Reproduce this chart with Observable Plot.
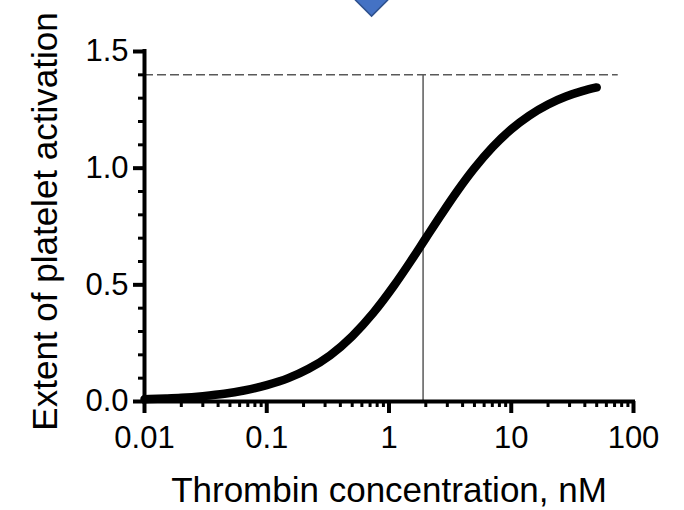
<!DOCTYPE html>
<html>
<head>
<meta charset="utf-8">
<script src="https://cdn.jsdelivr.net/npm/d3@7"></script>
<script src="https://cdn.jsdelivr.net/npm/@observablehq/plot@0.6"></script>
<style>
  html, body { margin: 0; padding: 0; background: #fff; overflow: hidden; }
</style>
</head>
<body>
<div id="chart"></div>
<script>
// Curve: thrombin concentration (nM) vs extent of activation
const concentration = [0.01, 0.015, 0.02, 0.03, 0.045, 0.065, 0.1, 0.15, 0.22, 0.33, 0.5, 0.75, 1.1, 1.5, 2, 2.7, 3.6, 5, 7, 10, 14, 20, 28, 38, 50];
const activation    = [0.010, 0.013, 0.016, 0.023, 0.033, 0.047, 0.070, 0.100, 0.140, 0.198, 0.280, 0.382, 0.497, 0.600, 0.700, 0.804, 0.900, 1.000, 1.089, 1.167, 1.225, 1.273, 1.307, 1.330, 1.346];

// Reference lines
const maxLevel = [1.4];          // dashed plateau
const maxLevelRange = [0.01, 75];
const ec50 = [1.9];              // vertical marker

// Diamond marker above the plot
const markerX = [0.72];
const markerY = [1.72];

// Axes
const xMajor = [0.01, 0.1, 1, 10, 100];
const xTickLabels = ["0.01", "0.1", "1", "10", "100"];
const xMinor = [0.02, 0.03, 0.04, 0.05, 0.06, 0.07, 0.08, 0.09,
                0.2, 0.3, 0.4, 0.5, 0.6, 0.7, 0.8, 0.9,
                2, 3, 4, 5, 6, 7, 8, 9,
                20, 30, 40, 50, 60, 70, 80, 90];
const yMajor = [0, 0.5, 1.0, 1.5];
const yTickLabels = ["0.0", "0.5", "1.0", "1.5"];
const yMinor = [0.1, 0.2, 0.3, 0.4, 0.6, 0.7, 0.8, 0.9, 1.1, 1.2, 1.3, 1.4];
const xLabel = "Thrombin concentration, nM";
const yLabel = "Extent of platelet activation";

const curve = concentration.map((c, i) => ({c, a: activation[i]}));

const chart = Plot.plot({
  width: 684,
  height: 510,
  marginLeft: 144,
  marginRight: 51,
  marginTop: 51,
  marginBottom: 109,
  style: {fontFamily: "'Liberation Sans', Arial, sans-serif", fontSize: "31px", color: "black", background: "white", overflow: "visible"},
  x: {type: "log", domain: [0.01, 100]},
  y: {domain: [0, 1.5]},
  marks: [
    // reference lines
    Plot.ruleY(maxLevel, {x1: maxLevelRange[0], x2: maxLevelRange[1], stroke: "#595959", strokeWidth: 1.5, strokeDasharray: "9,4"}),
    Plot.ruleX(ec50, {y1: 0, y2: maxLevel[0], stroke: "#595959", strokeWidth: 1.5}),
    // curve
    Plot.line(curve, {x: "c", y: "a", curve: "monotone-x", stroke: "black", strokeWidth: 8.5, strokeLinecap: "round", strokeLinejoin: "round"}),
    // axis lines
    Plot.ruleY([0], {x1: xMajor[0], x2: xMajor[xMajor.length - 1], stroke: "black", strokeWidth: 4, strokeLinecap: "square"}),
    Plot.ruleX([xMajor[0]], {y1: yMajor[0], y2: yMajor[yMajor.length - 1], stroke: "black", strokeWidth: 4, strokeLinecap: "square"}),
    // x axis ticks
    Plot.axisX({ticks: xMinor, tickSize: 6, tickFormat: () => "", strokeWidth: 3, label: null}),
    Plot.axisX({ticks: xMajor, tickSize: 12, tickPadding: 12, strokeWidth: 4, fontSize: 31,
                tickFormat: d => xTickLabels[xMajor.indexOf(d)], label: null}),
    // y axis ticks
    Plot.axisY({ticks: yMinor, tickSize: 6, tickFormat: () => "", strokeWidth: 3, label: null}),
    Plot.axisY({ticks: yMajor, tickSize: 11, tickPadding: 5, strokeWidth: 4, fontSize: 31,
                tickFormat: d => yTickLabels[yMajor.indexOf(d)], label: null}),
    // axis titles
    Plot.text([xLabel], {frameAnchor: "bottom", textAnchor: "middle", lineAnchor: "middle", dy: 89, fontSize: 35, fill: "black"}),
    Plot.text([yLabel], {frameAnchor: "left", textAnchor: "middle", lineAnchor: "middle", rotate: -90, dx: -99, dy: -5, fontSize: 35, fill: "black"}),
    // diamond marker
    Plot.dot(markerX.map((x, i) => ({x, y: markerY[i]})), {x: "x", y: "y", symbol: "diamond2", r: 14.4, fill: "#4472C4", stroke: "#2F528F", strokeWidth: 1.5})
  ]
});

document.getElementById("chart").append(chart);
</script>
</body>
</html>
